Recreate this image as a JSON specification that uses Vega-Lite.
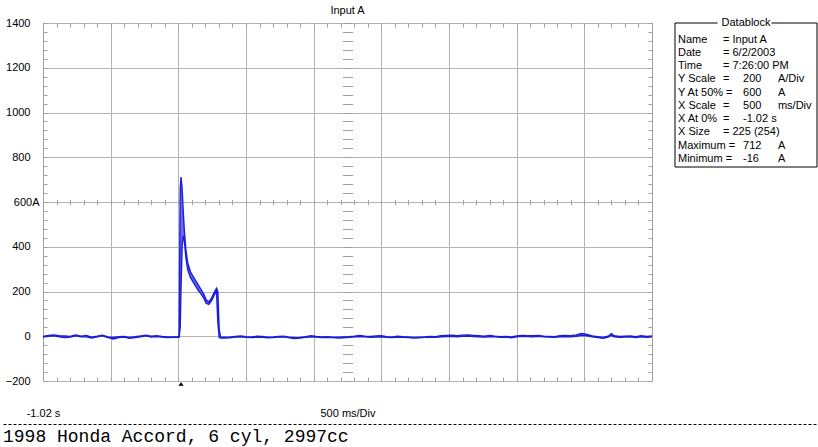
{
  "$schema": "https://vega.github.io/schema/vega-lite/v6.json",
  "background": "white",
  "padding": {"left": 2, "top": 4, "right": 0, "bottom": 0},
  "config": {"view": {"stroke": null}},
  "datasets": {
    "wave": [
      {"t": -1.02, "lo": -4, "hi": -1}, {"t": -0.98, "lo": 0, "hi": 4}, {"t": -0.94, "lo": 2, "hi": 6},
      {"t": -0.9, "lo": -2, "hi": 2}, {"t": -0.86, "lo": -6, "hi": 1}, {"t": -0.82, "lo": -4, "hi": -1},
      {"t": -0.78, "lo": 2, "hi": 6}, {"t": -0.74, "lo": -2, "hi": 0}, {"t": -0.7, "lo": -3, "hi": 3},
      {"t": -0.66, "lo": -8, "hi": -4}, {"t": -0.62, "lo": -3, "hi": 0}, {"t": -0.58, "lo": 2, "hi": 5},
      {"t": -0.54, "lo": -6, "hi": -3}, {"t": -0.5, "lo": -12, "hi": -5}, {"t": -0.46, "lo": -6, "hi": -2},
      {"t": -0.42, "lo": -4, "hi": -1}, {"t": -0.38, "lo": -9, "hi": -5}, {"t": -0.34, "lo": -6, "hi": -2},
      {"t": -0.3, "lo": -2, "hi": 1}, {"t": -0.26, "lo": 2, "hi": 5}, {"t": -0.22, "lo": -3, "hi": 0},
      {"t": -0.18, "lo": -1, "hi": 2}, {"t": -0.14, "lo": -4, "hi": -1}, {"t": -0.1, "lo": -6, "hi": -3},
      {"t": -0.06, "lo": -5, "hi": -3}, {"t": -0.02, "lo": -5, "hi": -2},
      {"t": -0.014, "lo": -4, "hi": 0}, {"t": -0.006, "lo": 40, "hi": 660}, {"t": 0, "lo": 220, "hi": 712},
      {"t": 0.008, "lo": 400, "hi": 660}, {"t": 0.016, "lo": 450, "hi": 560}, {"t": 0.024, "lo": 430, "hi": 475},
      {"t": 0.036, "lo": 350, "hi": 385}, {"t": 0.05, "lo": 296, "hi": 325}, {"t": 0.07, "lo": 262, "hi": 288},
      {"t": 0.09, "lo": 242, "hi": 266}, {"t": 0.11, "lo": 222, "hi": 246}, {"t": 0.13, "lo": 203, "hi": 226},
      {"t": 0.15, "lo": 187, "hi": 206}, {"t": 0.17, "lo": 168, "hi": 186}, {"t": 0.185, "lo": 148, "hi": 163},
      {"t": 0.205, "lo": 142, "hi": 153}, {"t": 0.225, "lo": 158, "hi": 170}, {"t": 0.245, "lo": 183, "hi": 196},
      {"t": 0.262, "lo": 203, "hi": 214}, {"t": 0.272, "lo": 60, "hi": 200}, {"t": 0.282, "lo": -6, "hi": 30},
      {"t": 0.292, "lo": -8, "hi": -3},
      {"t": 0.32, "lo": -8, "hi": -4}, {"t": 0.36, "lo": -7, "hi": -4}, {"t": 0.4, "lo": -4, "hi": -1},
      {"t": 0.44, "lo": -2, "hi": 1}, {"t": 0.48, "lo": -5, "hi": -2}, {"t": 0.52, "lo": -6, "hi": -3},
      {"t": 0.56, "lo": -4, "hi": 0}, {"t": 0.6, "lo": -5, "hi": -1}, {"t": 0.64, "lo": -7, "hi": -4},
      {"t": 0.68, "lo": -6, "hi": -3}, {"t": 0.72, "lo": -4, "hi": -1}, {"t": 0.76, "lo": -3, "hi": 0},
      {"t": 0.8, "lo": -7, "hi": -4}, {"t": 0.84, "lo": -10, "hi": -6}, {"t": 0.88, "lo": -8, "hi": -5},
      {"t": 0.92, "lo": -5, "hi": -2}, {"t": 0.96, "lo": -2, "hi": 2}, {"t": 1.0, "lo": -4, "hi": -1},
      {"t": 1.04, "lo": -6, "hi": -3}, {"t": 1.08, "lo": -5, "hi": -2}, {"t": 1.12, "lo": -6, "hi": -4},
      {"t": 1.16, "lo": -8, "hi": -4}, {"t": 1.2, "lo": -7, "hi": -3}, {"t": 1.24, "lo": -5, "hi": -2},
      {"t": 1.28, "lo": -3, "hi": 0}, {"t": 1.32, "lo": -1, "hi": 3}, {"t": 1.36, "lo": -3, "hi": 0},
      {"t": 1.4, "lo": -5, "hi": -1}, {"t": 1.44, "lo": -4, "hi": 1}, {"t": 1.48, "lo": -3, "hi": 2},
      {"t": 1.52, "lo": -5, "hi": -2}, {"t": 1.56, "lo": -6, "hi": -3}, {"t": 1.6, "lo": -4, "hi": 0},
      {"t": 1.64, "lo": -5, "hi": -2}, {"t": 1.68, "lo": -6, "hi": -3}, {"t": 1.72, "lo": -8, "hi": -5},
      {"t": 1.76, "lo": -7, "hi": -4}, {"t": 1.8, "lo": -5, "hi": -3}, {"t": 1.84, "lo": -4, "hi": -1},
      {"t": 1.88, "lo": -5, "hi": -2}, {"t": 1.92, "lo": -2, "hi": 2}, {"t": 1.96, "lo": -1, "hi": 4},
      {"t": 2.0, "lo": 0, "hi": 5}, {"t": 2.04, "lo": -2, "hi": 3}, {"t": 2.08, "lo": 0, "hi": 5},
      {"t": 2.12, "lo": 1, "hi": 6}, {"t": 2.16, "lo": -1, "hi": 4}, {"t": 2.2, "lo": -3, "hi": 2},
      {"t": 2.24, "lo": -4, "hi": 0}, {"t": 2.28, "lo": -2, "hi": 3}, {"t": 2.32, "lo": -3, "hi": 0},
      {"t": 2.36, "lo": -5, "hi": -2}, {"t": 2.4, "lo": -4, "hi": -1}, {"t": 2.44, "lo": -7, "hi": -3},
      {"t": 2.48, "lo": -2, "hi": 1}, {"t": 2.52, "lo": 0, "hi": 4}, {"t": 2.56, "lo": -1, "hi": 3},
      {"t": 2.6, "lo": -2, "hi": 2}, {"t": 2.64, "lo": 0, "hi": 4}, {"t": 2.68, "lo": -3, "hi": 0},
      {"t": 2.72, "lo": -4, "hi": -1}, {"t": 2.76, "lo": -5, "hi": -2}, {"t": 2.8, "lo": -2, "hi": 2},
      {"t": 2.84, "lo": -1, "hi": 4}, {"t": 2.88, "lo": -3, "hi": 2}, {"t": 2.92, "lo": 0, "hi": 6},
      {"t": 2.96, "lo": 4, "hi": 12}, {"t": 3.0, "lo": 2, "hi": 8}, {"t": 3.04, "lo": -3, "hi": 1},
      {"t": 3.08, "lo": -6, "hi": -2}, {"t": 3.12, "lo": -9, "hi": -5}, {"t": 3.16, "lo": -3, "hi": 1},
      {"t": 3.18, "lo": 4, "hi": 12}, {"t": 3.2, "lo": -2, "hi": 2}, {"t": 3.24, "lo": -5, "hi": -1},
      {"t": 3.28, "lo": -4, "hi": 0}, {"t": 3.32, "lo": -3, "hi": 1}, {"t": 3.36, "lo": -6, "hi": -2},
      {"t": 3.4, "lo": -2, "hi": 2}, {"t": 3.44, "lo": -5, "hi": -1}, {"t": 3.48, "lo": -3, "hi": 1}
    ],
    "db": [
      {"n": 1, "k": "Name", "eq": "= Input A", "v": "", "u": ""},
      {"n": 2, "k": "Date", "eq": "= 6/2/2003", "v": "", "u": ""},
      {"n": 3, "k": "Time", "eq": "= 7:26:00 PM", "v": "", "u": ""},
      {"n": 4, "k": "Y Scale", "eq": "=", "v": "200", "u": "A/Div"},
      {"n": 5, "k": "Y At 50% =", "eq": "", "v": "600", "u": "A"},
      {"n": 6, "k": "X Scale", "eq": "=", "v": "500", "u": "ms/Div"},
      {"n": 7, "k": "X At 0%", "eq": "=", "v": "-1.02 s", "u": ""},
      {"n": 8, "k": "X Size", "eq": "= 225 (254)", "v": "", "u": ""},
      {"n": 9, "k": "Maximum =", "eq": "", "v": "712", "u": "A"},
      {"n": 10, "k": "Minimum =", "eq": "", "v": "-16", "u": "A"}
    ]
  },
  "spacing": 5,
  "vconcat": [
    {
      "spacing": 18,
      "hconcat": [
        {
          "width": 609,
          "height": 358,
          "view": {"stroke": "#a0a0a0"},
          "title": {"text": "Input A", "fontSize": 11, "fontWeight": "normal", "font": "Liberation Sans", "offset": 1.5, "color": "#000"},
          "data": {"name": "wave"},
          "resolve": {"axis": {"x": "independent", "y": "independent"}},
          "layer": [
            {
              "mark": {"type": "area", "color": "#6a6af2", "opacity": 1},
              "encoding": {
                "x": {"field": "t", "type": "quantitative",
                  "scale": {"domain": [-1.02, 3.48], "nice": false, "zero": false},
                  "axis": {"orient": "bottom", "title": null, "domain": false,
                    "values": [-1.02, -0.92, -0.82, -0.72, -0.62, -0.52, -0.42, -0.32, -0.22, -0.12, -0.02, 0.08, 0.18, 0.28, 0.38, 0.48, 0.58, 0.68, 0.78, 0.88, 0.98, 1.08, 1.18, 1.23, 1.28, 1.38, 1.48, 1.58, 1.68, 1.78, 1.88, 1.98, 2.08, 2.18, 2.28, 2.38, 2.48, 2.58, 2.68, 2.78, 2.88, 2.98, 3.08, 3.18, 3.28, 3.38, 3.48],
                    "labelExpr": "datum.value == 1.23 ? '500 ms/Div' : (datum.value == -1.02 ? '-1.02 s' : '')",
                    "labelFlush": false, "labelOverlap": false, "labelPadding": 30,
                    "labelFont": "Liberation Sans", "labelFontSize": 11, "labelColor": "#000",
                    "tickSize": -4, "tickColor": "#a0a0a0",
                    "tickOpacity": {"condition": {"test": "datum.value == 1.23", "value": 0}, "value": 1},
                    "grid": true, "gridColor": "#b4b4b4",
                    "gridOpacity": {"condition": {"test": "indexof([-0.52, -0.02, 0.48, 0.98, 1.48, 1.98, 2.48, 2.98], datum.value) >= 0", "value": 1}, "value": 0}
                  }
                },
                "y": {"field": "hi", "type": "quantitative",
                  "scale": {"domain": [-200, 1400], "nice": false, "zero": false},
                  "axis": {"orient": "left", "title": null, "domain": false, "minExtent": 40,
                    "values": [-200, -160, -120, -80, -40, 0, 40, 80, 120, 160, 200, 240, 280, 320, 360, 400, 440, 480, 520, 560, 600, 640, 680, 720, 760, 800, 840, 880, 920, 960, 1000, 1040, 1080, 1120, 1160, 1200, 1240, 1280, 1320, 1360, 1400],
                    "format": "d",
                    "labelExpr": "datum.value % 200 != 0 ? '' : (datum.value == 600 ? '600A' : datum.label)",
                    "labelFlush": false, "labelOverlap": false,
                    "labelPadding": {"condition": {"test": "datum.value == 600", "value": 8}, "value": 17},
                    "labelFont": "Liberation Sans", "labelFontSize": 11, "labelColor": "#000",
                    "tickSize": -4, "tickColor": "#a0a0a0",
                    "grid": true, "gridColor": "#b4b4b4",
                    "gridOpacity": {"condition": {"test": "datum.value % 200 == 0", "value": 1}, "value": 0}
                  }
                },
                "y2": {"field": "lo"}
              }
            },
            {
              "mark": {"type": "line", "color": "#1c1cdc", "strokeWidth": 1.4},
              "encoding": {
                "x": {"field": "t", "type": "quantitative",
                  "axis": {"orient": "top", "title": null, "domain": false, "labels": false, "grid": false, "minExtent": 0,
                    "values": [-1.02, -0.92, -0.82, -0.72, -0.62, -0.52, -0.42, -0.32, -0.22, -0.12, -0.02, 0.08, 0.18, 0.28, 0.38, 0.48, 0.58, 0.68, 0.78, 0.88, 0.98, 1.08, 1.18, 1.28, 1.38, 1.48, 1.58, 1.68, 1.78, 1.88, 1.98, 2.08, 2.18, 2.28, 2.38, 2.48, 2.58, 2.68, 2.78, 2.88, 2.98, 3.08, 3.18, 3.28, 3.38, 3.48],
                    "tickSize": -4, "tickColor": "#a0a0a0"}
                },
                "y": {"field": "hi", "type": "quantitative",
                  "axis": {"orient": "right", "title": null, "domain": false, "labels": false, "grid": false, "minExtent": 0,
                    "values": [-200, -160, -120, -80, -40, 0, 40, 80, 120, 160, 200, 240, 280, 320, 360, 400, 440, 480, 520, 560, 600, 640, 680, 720, 760, 800, 840, 880, 920, 960, 1000, 1040, 1080, 1120, 1160, 1200, 1240, 1280, 1320, 1360, 1400],
                    "tickSize": -4, "tickColor": "#a0a0a0"}
                }
              }
            },
            {
              "mark": {"type": "line", "color": "#1c1cdc", "strokeWidth": 1.4},
              "encoding": {
                "x": {"field": "t", "type": "quantitative",
                  "axis": {"orient": "bottom", "offset": -181.5, "title": null, "domain": false, "labels": false, "grid": false, "minExtent": 0,
                    "values": [-1.02, -0.92, -0.82, -0.72, -0.62, -0.52, -0.42, -0.32, -0.22, -0.12, -0.02, 0.08, 0.18, 0.28, 0.38, 0.48, 0.58, 0.68, 0.78, 0.88, 0.98, 1.08, 1.18, 1.28, 1.38, 1.48, 1.58, 1.68, 1.78, 1.88, 1.98, 2.08, 2.18, 2.28, 2.38, 2.48, 2.58, 2.68, 2.78, 2.88, 2.98, 3.08, 3.18, 3.28, 3.38, 3.48],
                    "tickSize": 5, "tickColor": "#a0a0a0"}
                },
                "y": {"field": "lo", "type": "quantitative",
                  "axis": {"orient": "left", "offset": -309.5, "title": null, "domain": false, "labels": false, "grid": false, "minExtent": 0,
                    "values": [-200, -160, -120, -80, -40, 0, 40, 80, 120, 160, 200, 240, 280, 320, 360, 400, 440, 480, 520, 560, 600, 640, 680, 720, 760, 800, 840, 880, 920, 960, 1000, 1040, 1080, 1120, 1160, 1200, 1240, 1280, 1320, 1360, 1400],
                    "tickSize": 10, "tickColor": "#a0a0a0"}
                }
              }
            },
            {
              "data": {"values": [{"marker": "trigger"}]},
              "mark": {"type": "point", "shape": "M-1,0.6L1,0.6L0,-0.6Z", "filled": true, "color": "#000", "opacity": 1, "size": 30, "yOffset": 3},
              "encoding": {
                "x": {"datum": 0, "type": "quantitative", "axis": null},
                "y": {"datum": -200, "type": "quantitative", "axis": null}
              }
            }
          ]
        },
        {
          "width": 142,
          "height": 144,
          "data": {"name": "db"},
          "layer": [
            {
              "mark": {"type": "text", "align": "left", "baseline": "middle", "font": "Liberation Sans Narrow, Liberation Sans", "fontSize": 11, "color": "#000"},
              "encoding": {
                "x": {"datum": 0.021, "type": "quantitative", "scale": {"domain": [0, 1], "nice": false}, "axis": null},
                "y": {"field": "n", "type": "quantitative", "scale": {"domain": [-0.25, 10.6], "reverse": true, "nice": false, "zero": false}, "axis": null},
                "text": {"field": "k"}
              }
            },
            {
              "mark": {"type": "text", "align": "left", "baseline": "middle", "font": "Liberation Sans Narrow, Liberation Sans", "fontSize": 11, "color": "#000"},
              "encoding": {
                "x": {"datum": 0.338, "type": "quantitative", "axis": null},
                "y": {"field": "n", "type": "quantitative", "axis": null},
                "text": {"field": "eq"}
              }
            },
            {
              "mark": {"type": "text", "align": "left", "baseline": "middle", "font": "Liberation Sans Narrow, Liberation Sans", "fontSize": 11, "color": "#000"},
              "encoding": {
                "x": {"datum": 0.479, "type": "quantitative", "axis": null},
                "y": {"field": "n", "type": "quantitative", "axis": null},
                "text": {"field": "v"}
              }
            },
            {
              "mark": {"type": "text", "align": "left", "baseline": "middle", "font": "Liberation Sans Narrow, Liberation Sans", "fontSize": 11, "color": "#000"},
              "encoding": {
                "x": {"datum": 0.725, "type": "quantitative", "axis": null},
                "y": {"field": "n", "type": "quantitative", "axis": null},
                "text": {"field": "u"}
              }
            },
            {
              "data": {"values": [{"label": "Datablock"}]},
              "mark": {"type": "text", "align": "center", "baseline": "middle", "font": "Liberation Sans Narrow, Liberation Sans", "fontSize": 11, "color": "#000"},
              "encoding": {
                "x": {"datum": 0.5, "type": "quantitative", "axis": null},
                "y": {"datum": -0.25, "type": "quantitative", "axis": null},
                "text": {"field": "label"}
              }
            },
            {
              "data": {"values": [{"side": "top-left"}]},
              "mark": {"type": "rule", "color": "#000", "strokeWidth": 1},
              "encoding": {
                "x": {"datum": 0, "type": "quantitative", "axis": null}, "x2": {"datum": 0.3},
                "y": {"datum": -0.25, "type": "quantitative", "axis": null}
              }
            },
            {
              "data": {"values": [{"side": "top-right"}]},
              "mark": {"type": "rule", "color": "#000", "strokeWidth": 1},
              "encoding": {
                "x": {"datum": 0.68, "type": "quantitative", "axis": null}, "x2": {"datum": 1},
                "y": {"datum": -0.25, "type": "quantitative", "axis": null}
              }
            },
            {
              "data": {"values": [{"side": "bottom"}]},
              "mark": {"type": "rule", "color": "#000", "strokeWidth": 1},
              "encoding": {
                "x": {"datum": 0, "type": "quantitative", "axis": null}, "x2": {"datum": 1},
                "y": {"datum": 10.6, "type": "quantitative", "axis": null}
              }
            },
            {
              "data": {"values": [{"side": "left"}]},
              "mark": {"type": "rule", "color": "#000", "strokeWidth": 1},
              "encoding": {
                "x": {"datum": 0, "type": "quantitative", "axis": null},
                "y": {"datum": -0.25, "type": "quantitative", "axis": null}, "y2": {"datum": 10.6}
              }
            },
            {
              "data": {"values": [{"side": "right"}]},
              "mark": {"type": "rule", "color": "#000", "strokeWidth": 1},
              "encoding": {
                "x": {"datum": 1, "type": "quantitative", "axis": null},
                "y": {"datum": -0.25, "type": "quantitative", "axis": null}, "y2": {"datum": 10.6}
              }
            }
          ]
        }
      ]
    },
    {
      "width": 816,
      "height": 1,
      "data": {"values": [{"part": "footer"}]},
      "title": {"text": "1998 Honda Accord, 6 cyl, 2997cc", "orient": "bottom", "anchor": "start", "frame": "bounds", "font": "Liberation Mono", "fontSize": 18, "fontWeight": "normal", "color": "#000", "offset": 3},
      "mark": {"type": "rule", "opacity": 0},
      "encoding": {
        "x": {"datum": 0, "type": "quantitative", "scale": {"domain": [0, 1], "nice": false},
          "axis": {"orient": "top", "position": -40, "title": null, "labels": false, "ticks": false, "grid": false,
            "domain": true, "domainColor": "#000", "domainWidth": 1, "domainDash": [3, 2], "minExtent": 0}},
        "x2": {"datum": 1},
        "y": {"datum": 1, "type": "quantitative", "scale": {"domain": [0, 1]}, "axis": null}
      }
    }
  ]
}
